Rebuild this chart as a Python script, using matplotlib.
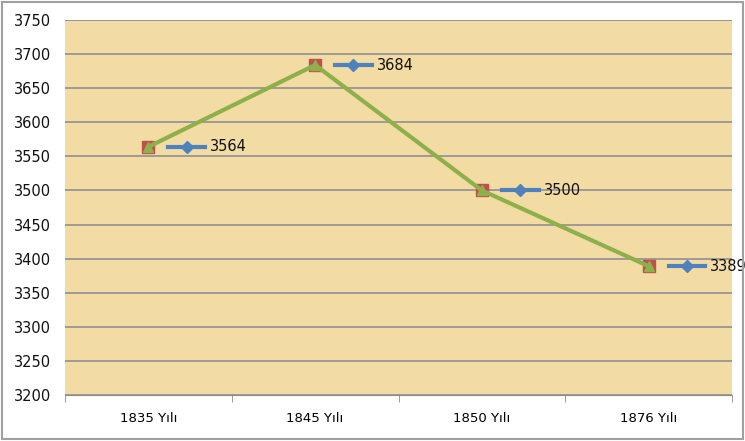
import numpy as np
import matplotlib.pyplot as plt

years = ['1835 Yılı', '1845 Yılı', '1850 Yılı', '1876 Yılı']
values = [3564, 3684, 3500, 3389]
yticks = list(range(3200, 3751, 50))

fig = plt.figure(figsize=(7.45, 4.41), dpi=100)
fig.patch.set_facecolor('white')
ax = fig.add_axes([65/745, 1-395/441, (732-65)/745, (395-20)/441])
ax.set_facecolor('#f2dca4')

x = np.arange(len(years))
ax.set_xlim(-0.5, len(years)-0.5)
ax.set_ylim(3200, 3750)
ax.set_yticks(yticks)
ax.yaxis.grid(True, color='#9a9494', linewidth=1.3)
ax.set_axisbelow(True)

# red squares, green line with small triangles on top
ax.plot(x, values, 's', color='#c0504d', markersize=9, zorder=3)
ax.plot(x, values, '-^', color='#8db04a', linewidth=3, markersize=7, zorder=4)

# data labels with legend keys
for xi, v in zip(x, values):
    ax.plot([xi + 0.12, xi + 0.34], [v, v], color='#4f81bd', linewidth=3, zorder=5, clip_on=False)
    ax.plot(xi + 0.23, v, 'D', color='#4f81bd', markersize=6, zorder=5, clip_on=False)
    ax.annotate(str(v), xy=(xi + 0.37, v), va='center', ha='left', fontsize=10.5,
                color='#111111', annotation_clip=False)

ax.set_xticks(x)
ax.set_xticklabels(years, fontsize=9.5, family=['Liberation Sans Narrow', 'DejaVu Sans'])
ax.set_xticks(np.arange(-0.5, len(years)), minor=True)
ax.tick_params(axis='x', which='major', length=0, pad=12)
ax.tick_params(axis='x', which='minor', length=5, color='#8c8c8c')
ax.tick_params(axis='y', length=0, labelsize=10.5, pad=10, labelcolor='#111111')

for s in ['left', 'right', 'top']:
    ax.spines[s].set_visible(False)
ax.spines['bottom'].set_color('#8c8c8c')
ax.axhline(3750, color='#9a9494', linewidth=1.3)

fig.add_artist(plt.Rectangle((0.003, 0.004), 0.994, 0.992, transform=fig.transFigure,
                             fill=False, edgecolor='#a0a0a0', linewidth=1.5))

fig.savefig('out.png', dpi=100)
